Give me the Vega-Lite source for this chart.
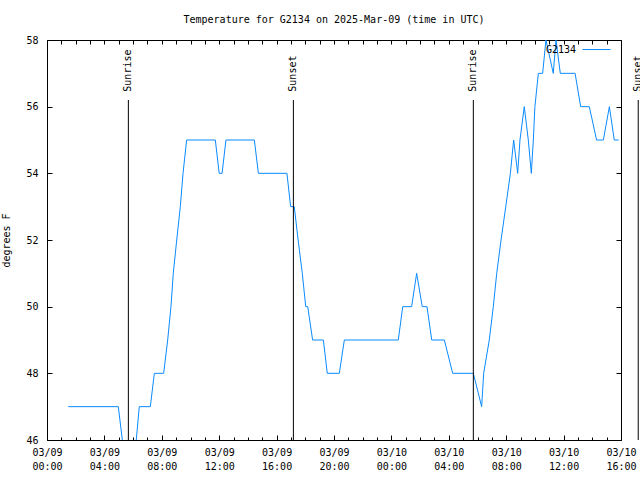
{
  "$schema": "https://vega.github.io/schema/vega-lite/v6.json",
  "width": 574,
  "height": 400,
  "autosize": {"type": "none"},
  "padding": {"left": 47, "top": 40, "right": 19, "bottom": 40},
  "background": "white",
  "title": {"text": "Temperature for G2134 on 2025-Mar-09 (time in UTC)", "font": "DejaVu Sans Mono", "fontSize": 10, "fontWeight": "normal", "color": "black", "offset": 10},
  "config": {
    "view": {"stroke": "black", "strokeWidth": 1},
    "axis": {"labelFont": "DejaVu Sans Mono", "labelFontSize": 10, "labelColor": "black", "tickColor": "black", "domainColor": "black", "grid": false, "titleFont": "DejaVu Sans Mono", "titleFontSize": 10, "titleFontWeight": "normal", "titleColor": "black"}
  },
  "datasets": {
    "temps": [
      {"hour": 1.48, "temp": 47}, {"hour": 4.97, "temp": 47}, {"hour": 5.25, "temp": 46}, {"hour": 5.5, "temp": 45},
      {"hour": 6.0, "temp": 45}, {"hour": 6.22, "temp": 46}, {"hour": 6.43, "temp": 47}, {"hour": 7.2, "temp": 47},
      {"hour": 7.48, "temp": 48}, {"hour": 8.13, "temp": 48}, {"hour": 8.41, "temp": 49}, {"hour": 8.64, "temp": 50},
      {"hour": 8.8, "temp": 51}, {"hour": 9.04, "temp": 52}, {"hour": 9.29, "temp": 53}, {"hour": 9.48, "temp": 54},
      {"hour": 9.73, "temp": 55}, {"hour": 11.73, "temp": 55}, {"hour": 12.0, "temp": 54}, {"hour": 12.2, "temp": 54},
      {"hour": 12.47, "temp": 55}, {"hour": 14.45, "temp": 55}, {"hour": 14.73, "temp": 54}, {"hour": 16.72, "temp": 54},
      {"hour": 16.98, "temp": 53}, {"hour": 17.23, "temp": 53}, {"hour": 17.5, "temp": 52}, {"hour": 17.79, "temp": 51},
      {"hour": 18.03, "temp": 50}, {"hour": 18.17, "temp": 50}, {"hour": 18.51, "temp": 49}, {"hour": 19.26, "temp": 49},
      {"hour": 19.53, "temp": 48}, {"hour": 20.37, "temp": 48}, {"hour": 20.72, "temp": 49}, {"hour": 24.48, "temp": 49},
      {"hour": 24.79, "temp": 50}, {"hour": 25.41, "temp": 50}, {"hour": 25.76, "temp": 51}, {"hour": 26.15, "temp": 50},
      {"hour": 26.48, "temp": 50}, {"hour": 26.81, "temp": 49}, {"hour": 27.69, "temp": 49}, {"hour": 28.27, "temp": 48},
      {"hour": 29.71, "temp": 48}, {"hour": 30.29, "temp": 47}, {"hour": 30.43, "temp": 48}, {"hour": 30.82, "temp": 49},
      {"hour": 31.1, "temp": 50}, {"hour": 31.34, "temp": 51}, {"hour": 31.64, "temp": 52}, {"hour": 31.97, "temp": 53},
      {"hour": 32.29, "temp": 54}, {"hour": 32.52, "temp": 55}, {"hour": 32.8, "temp": 54}, {"hour": 32.96, "temp": 55},
      {"hour": 33.26, "temp": 56}, {"hour": 33.54, "temp": 55}, {"hour": 33.75, "temp": 54}, {"hour": 33.89, "temp": 55},
      {"hour": 34.0, "temp": 56}, {"hour": 34.24, "temp": 57}, {"hour": 34.54, "temp": 57}, {"hour": 34.77, "temp": 58},
      {"hour": 35.28, "temp": 57}, {"hour": 35.47, "temp": 58}, {"hour": 35.77, "temp": 57}, {"hour": 36.8, "temp": 57},
      {"hour": 37.19, "temp": 56}, {"hour": 37.79, "temp": 56}, {"hour": 38.3, "temp": 55}, {"hour": 38.77, "temp": 55},
      {"hour": 39.19, "temp": 56}, {"hour": 39.53, "temp": 55}, {"hour": 39.84, "temp": 55}
    ],
    "sun": [
      {"hour": 5.67, "label": "Sunrise"},
      {"hour": 17.17, "label": "Sunset"},
      {"hour": 29.71, "label": "Sunrise"},
      {"hour": 41.2, "label": "Sunset"}
    ]
  },
  "resolve": {"axis": {"x": "independent", "y": "independent"}},
  "layer": [
    {
      "data": {"name": "temps"},
      "mark": {"type": "line", "clip": true, "strokeWidth": 1},
      "encoding": {
        "x": {
          "field": "hour", "type": "quantitative",
          "scale": {"domain": [0, 40], "nice": false, "zero": false},
          "axis": {"orient": "bottom", "title": null, "domain": false, "labels": false, "values": [0,1,2,3,4,5,6,7,8,9,10,11,12,13,14,15,16,17,18,19,20,21,22,23,24,25,26,27,28,29,30,31,32,33,34,35,36,37,38,39,40], "tickSize": -3}
        },
        "y": {
          "field": "temp", "type": "quantitative",
          "scale": {"domain": [46, 58], "nice": false, "zero": false},
          "axis": {"orient": "left", "title": "degrees F", "values": [46, 48, 50, 52, 54, 56, 58], "domain": false, "tickSize": -5, "labelPadding": 14, "titlePadding": 14}
        },
        "color": {
          "datum": "G2134", "type": "nominal",
          "scale": {"range": ["#0a8aff"]},
          "legend": {"title": null, "orient": "none", "legendX": 493, "legendY": -5, "symbolType": "stroke", "symbolSize": 784, "symbolStrokeWidth": 1, "symbolOffset": 42, "labelOffset": -35, "labelAlign": "right", "labelFont": "DejaVu Sans Mono", "labelFontSize": 10, "labelColor": "black", "padding": 0}
        }
      }
    },
    {
      "data": {"name": "sun"},
      "mark": {"type": "rule", "color": "black", "strokeWidth": 1, "clip": false},
      "encoding": {
        "x": {
          "field": "hour", "type": "quantitative",
          "axis": {"orient": "top", "title": null, "domain": false, "labels": false, "values": [0,1,2,3,4,5,6,7,8,9,10,11,12,13,14,15,16,17,18,19,20,21,22,23,24,25,26,27,28,29,30,31,32,33,34,35,36,37,38,39,40], "tickSize": -4}
        },
        "y": {"datum": 56.2, "type": "quantitative", "axis": {"orient": "right", "title": null, "values": [46, 48, 50, 52, 54, 56, 58], "domain": false, "labels": false, "tickSize": -5}},
        "y2": {"datum": 46}
      }
    },
    {
      "data": {"name": "sun"},
      "mark": {"type": "text", "angle": 270, "align": "left", "baseline": "middle", "font": "DejaVu Sans Mono", "fontSize": 10, "color": "black", "clip": false},
      "encoding": {
        "x": {
          "field": "hour", "type": "quantitative",
          "axis": {
            "orient": "bottom", "title": null, "domain": false,
            "values": [0, 4, 8, 12, 16, 20, 24, 28, 32, 36, 40],
            "labelExpr": "[datum.value < 24 ? '03/09' : '03/10', (datum.value % 24 < 10 ? '0' : '') + (datum.value % 24) + ':00']",
            "labelOverlap": false, "labelFlush": false, "labelBound": false,
            "labelLineHeight": 14, "labelPadding": 12, "labelBaseline": "top",
            "tickSize": -5
          }
        },
        "y": {"datum": 56.45, "type": "quantitative", "axis": null},
        "text": {"field": "label"}
      }
    }
  ]
}
